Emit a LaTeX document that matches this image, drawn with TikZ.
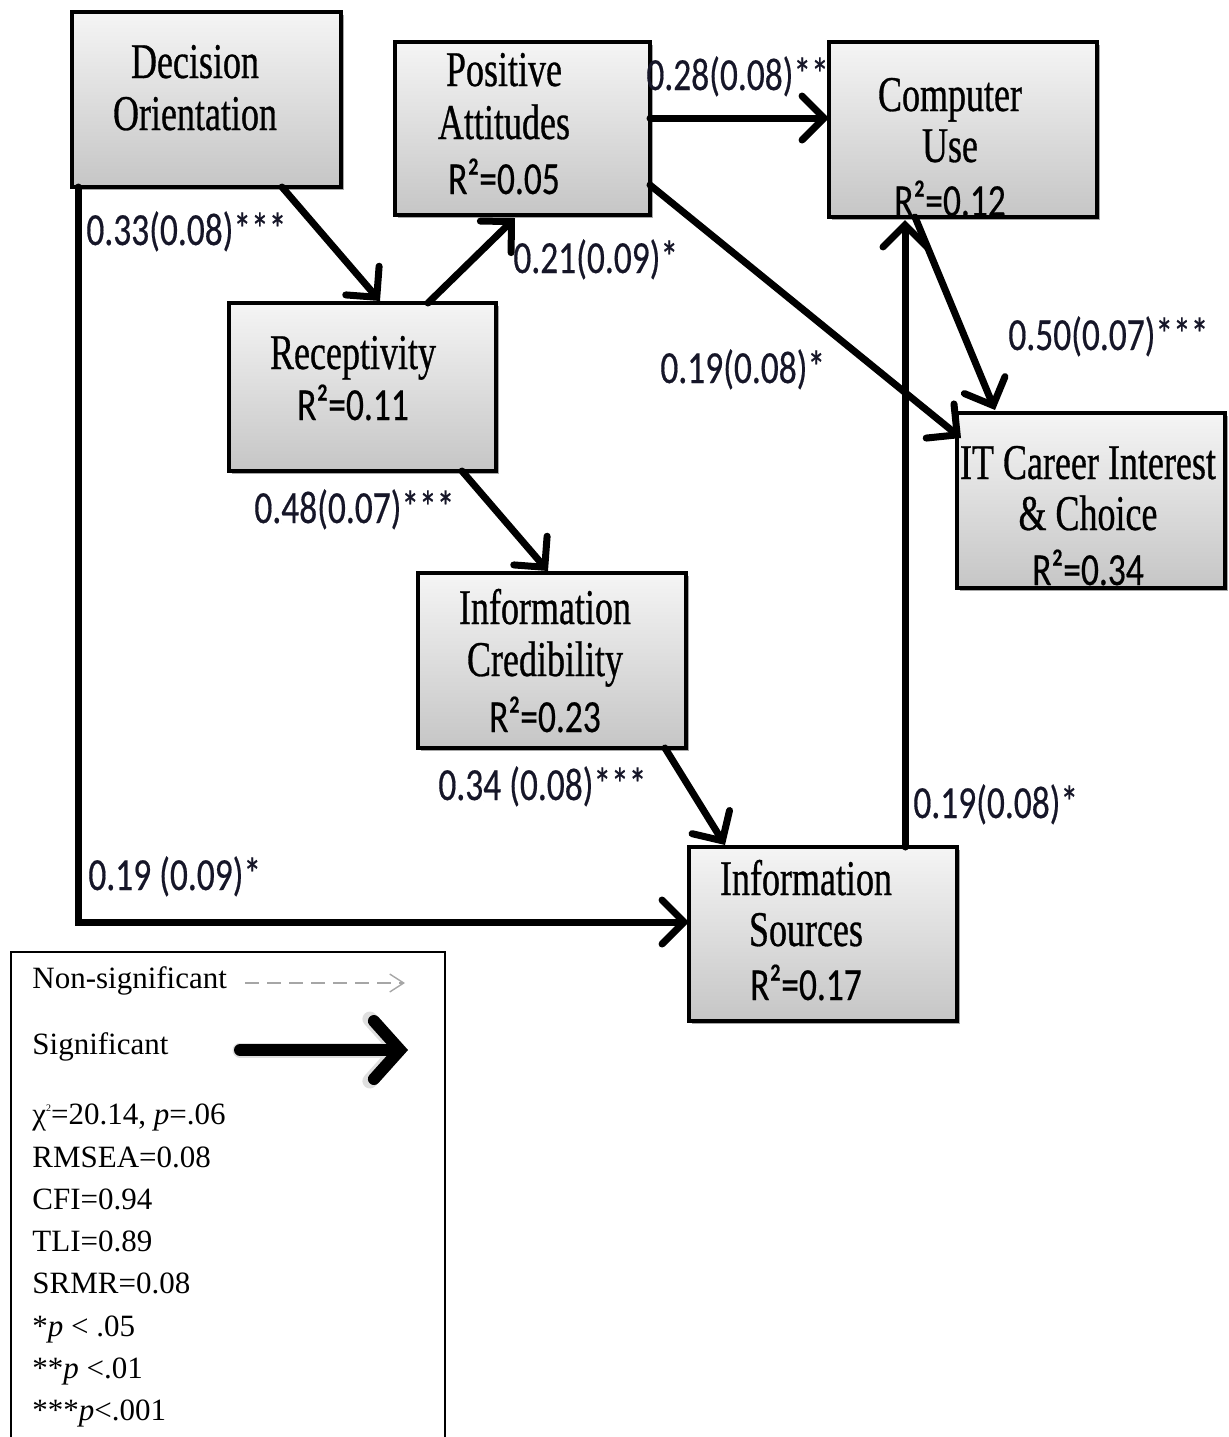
\documentclass[tikz,border=0pt]{standalone}
\usepackage{fontspec}
\setmainfont{Liberation Serif}
\newfontfamily\boxfont[FakeStretch=0.72,FakeBold=0.6]{Liberation Serif}
\newfontfamily\lblfont[FakeStretch=0.77,FakeBold=0.4]{Carlito}
\usetikzlibrary{arrows.meta,shadows,calc}
\definecolor{lblcol}{RGB}{22,22,40}
\begin{document}
\begin{tikzpicture}[x=0.5pt,y=-0.5pt,
  varbox/.style={draw=black, line width=1.6pt, top color=gray!8, bottom color=gray!45,
    drop shadow={shadow xshift=1.5pt,shadow yshift=-1.5pt,fill=black,opacity=0.35},
    inner sep=0pt, outer sep=0pt},
  btxt/.style={font=\boxfont\fontsize{25}{26}\selectfont, anchor=base, inner sep=0pt},
  rtxt/.style={font=\lblfont\fontsize{23}{26}\selectfont, anchor=base, inner sep=0pt},
  lbl/.style={font=\lblfont\fontsize{23}{26}\selectfont, text=lblcol, anchor=base west, inner sep=0pt},
  sig/.style={line width=3.5pt, line cap=round, line join=miter,
    -{Straight Barb[length=11pt,width=22pt,line cap=round]}},
  legtxt/.style={font=\fontsize{15.5}{18}\selectfont, anchor=base west, inner sep=0pt}
]
\useasboundingbox (0,0) rectangle (1229,1437);

% ---- boxes ----
\node[varbox, minimum width=134.5pt, minimum height=87.5pt] (DO) at (206.5,99.5) {};
\node[varbox, minimum width=127.5pt, minimum height=86.5pt] (PA) at (522.5,128.5) {};
\node[varbox, minimum width=134pt, minimum height=87.5pt] (CU) at (963,129.5) {};
\node[varbox, minimum width=133.5pt, minimum height=84pt] (REC) at (362.5,387) {};
\node[varbox, minimum width=134pt, minimum height=87.5pt] (IT) at (1091,500.5) {};
\node[varbox, minimum width=134pt, minimum height=87.5pt] (IC) at (552,660.5) {};
\node[varbox, minimum width=134pt, minimum height=87pt] (IS) at (823,934) {};

% ---- box texts ----
\node[btxt] (do1) at (195,78) {Decision};
\node[btxt] (do2) at (195,130) {Orientation};
\node[btxt] (pa1) at (504,86) {Positive};
\node[btxt] (pa2) at (504,139) {Attitudes};
\node[rtxt] (pa3) at (504,194) {R²=0.05};
\node[btxt] (cu1) at (950,111) {Computer};
\node[btxt] (cu2) at (950,162) {Use};
\node[rtxt] (cu3) at (950,216) {R²=0.12};
\node[btxt] (re1) at (353,369) {Receptivity};
\node[rtxt] (re2) at (353,420) {R²=0.11};
\node[btxt] (it1) at (1088,479) {IT Career Interest};
\node[btxt] (it2) at (1088,530) {\& Choice};
\node[rtxt] (it3) at (1088,585) {R²=0.34};
\node[btxt] (ic1) at (545,624) {Information};
\node[btxt] (ic2) at (545,676) {Credibility};
\node[rtxt] (ic3) at (545,732) {R²=0.23};
\node[btxt] (is1) at (806,895) {Information};
\node[btxt] (is2) at (806,946) {Sources};
\node[rtxt] (is3) at (806,1000) {R²=0.17};

% ---- connectors ----
\draw[sig] ($(DO.south)+(75.5,0)$) -- ($(REC.north)+(17.5,-2)$);
\draw[sig] ($(REC.north)+(65.5,0)$) -- ($(PA.south)+(-7.5,3)$);
\draw[sig] ($(PA.east)+(0,-10.5)$) -- ($(CU.west)+(0,-11.5)$);
\draw[sig] ($(PA.east)+(0,56.5)$) -- ($(IT.north west)+(4,25)$);
\draw[sig] ($(CU.south)+(-48,0)$) -- ($(IT.north)+(-96,-3)$);
\draw[sig] ($(REC.south)+(99.5,0)$) -- ($(IC.north)+(-4,-2)$);
\draw[sig] ($(IC.south)+(113,0)$) -- ($(IS.north)+(-98,-2)$);
\draw[sig] ($(DO.south west)+(6,0)$) |- ($(IS.west)+(0,-12)$);
\draw[sig] ($(IS.north)+(82,0)$) -- ($(CU.south)+(-58,3)$);

% ---- path labels ----
\node[lbl] (l1) at (86,245) {0.33(0.08)***};
\node[lbl] (l2) at (513,273) {0.21(0.09)*};
\node[lbl] (l3) at (646,90) {0.28(0.08)**};
\node[lbl] (l4) at (660,383) {0.19(0.08)*};
\node[lbl] (l5) at (1008,350) {0.50(0.07)***};
\node[lbl] (l6) at (254,523) {0.48(0.07)***};
\node[lbl] (l7) at (438,800) {0.34 (0.08)***};
\node[lbl] (l8) at (913,818) {0.19(0.08)*};
\node[lbl] (l9) at (88,890) {0.19 (0.09)*};

% ---- legend ----
\draw[line width=0.75pt] (11,1445) -- (11,952) -- (445,952) -- (445,1445);
\node[legtxt] (lg1) at (32,988) {Non-significant};
\coordinate (nsA) at (245,983);
\coordinate (nsB) at (405,983);
\draw[gray!70, line width=0.7pt, dash pattern=on 7pt off 4pt, -{Straight Barb[length=7pt,width=9pt]}] (nsA) -- (nsB);
\node[legtxt] (lg2) at (32,1054) {Significant};
\coordinate (sgA) at (240,1050);
\coordinate (sgB) at (408,1050);
\draw[gray!25, line width=7.5pt, line cap=round, -{Straight Barb[length=14pt,width=31pt,line cap=round]}] (sgA) -- (sgB);
\draw[black, line width=6pt, line cap=round, -{Straight Barb[length=13pt,width=29pt,line cap=round]}] (sgA) -- (sgB);
\node[legtxt] (lg3) at (32,1124) {χ\raisebox{0.9ex}{\fontsize{5}{5}\selectfont 2}=20.14, \textit{p}=.06};
\node[legtxt] (lg4) at (32,1167) {RMSEA=0.08};
\node[legtxt] (lg5) at (32,1209) {CFI=0.94};
\node[legtxt] (lg6) at (32,1251) {TLI=0.89};
\node[legtxt] (lg7) at (32,1293) {SRMR=0.08};
\node[legtxt] (lg8) at (32,1336) {*\textit{p} {<} .05};
\node[legtxt] (lg9) at (32,1378) {**\textit{p} {<}.01};
\node[legtxt] (lg10) at (32,1420) {***\textit{p}{<}.001};
\end{tikzpicture}
\end{document}
